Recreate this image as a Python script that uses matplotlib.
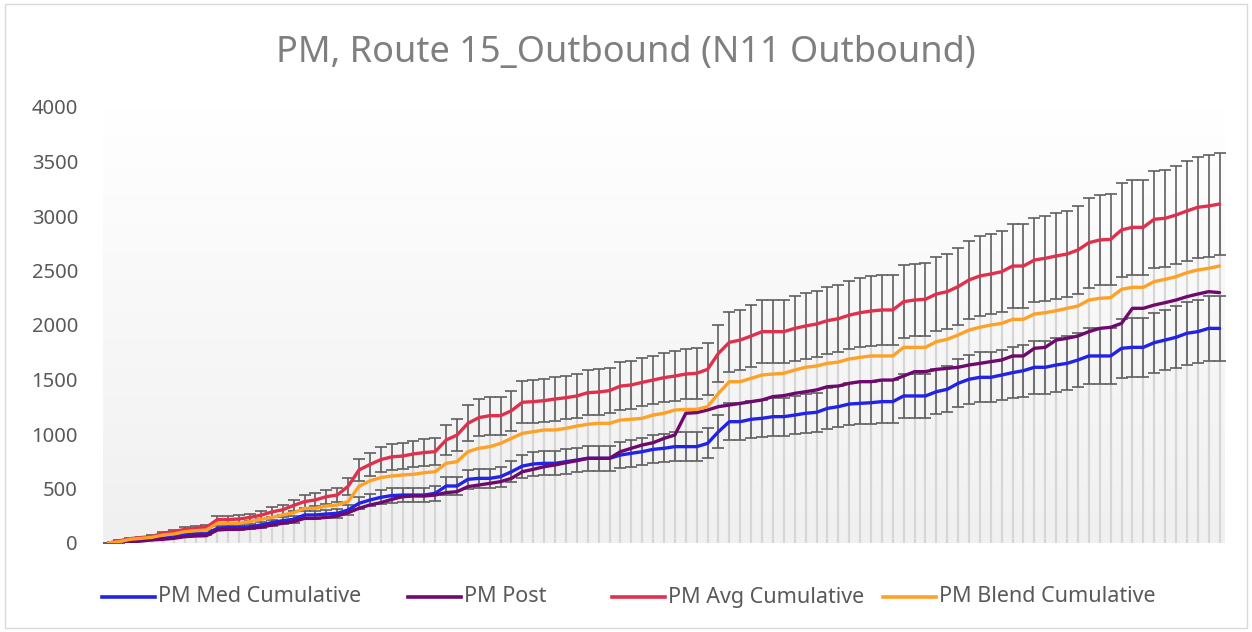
import numpy as np
import matplotlib
matplotlib.use("Agg")
import matplotlib.pyplot as plt
from matplotlib.colors import LinearSegmentedColormap
from matplotlib.patches import Rectangle
from matplotlib.lines import Line2D

# Cumulative PM counts per time step, Route 15 outbound
med_cumulative = [
    0, 3, 18, 28, 34, 43, 58, 73, 83, 83, 135, 144, 144, 150, 165, 187, 205, 217, 257, 257,
    266, 272, 303, 364, 394, 419, 435, 440, 440, 440, 456, 523, 523, 584, 593, 593, 609, 654,
    706, 725, 731, 731, 746, 761, 777, 777, 777, 807, 823, 838, 859, 869, 884, 884, 884, 914,
    1021, 1113, 1113, 1135, 1144, 1159, 1159, 1174, 1190, 1199, 1235, 1251, 1275, 1281, 1287,
    1297, 1297, 1349, 1349, 1349, 1388, 1410, 1465, 1502, 1520, 1520, 1541, 1563, 1581, 1612,
    1612, 1633, 1648, 1679, 1716, 1716, 1716, 1786, 1795, 1795, 1838, 1862, 1887, 1924, 1939,
    1969, 1969,
]
post = [
    0, 2, 9, 18, 28, 34, 43, 58, 64, 67, 119, 125, 125, 135, 144, 165, 181, 196, 226, 226,
    235, 248, 278, 318, 349, 370, 400, 425, 431, 431, 440, 462, 471, 517, 532, 547, 563, 593,
    654, 676, 700, 716, 737, 755, 777, 777, 777, 838, 869, 899, 920, 960, 991, 1190, 1196, 1220,
    1251, 1266, 1281, 1297, 1312, 1343, 1352, 1373, 1388, 1404, 1434, 1440, 1465, 1480, 1480,
    1495, 1495, 1532, 1572, 1572, 1593, 1602, 1612, 1633, 1648, 1664, 1679, 1716, 1716, 1786,
    1795, 1862, 1878, 1899, 1939, 1969, 1979, 2015, 2153, 2153, 2183, 2205, 2229, 2260, 2284,
    2306, 2297,
]
avg_cumulative = [
    0, 20, 40, 50, 60, 90, 105, 125, 135, 145, 215, 215, 220, 235, 255, 285, 305, 345, 380, 395,
    425, 440, 520, 670, 720, 765, 790, 798, 817, 830, 838, 945, 990, 1098, 1150, 1168, 1168, 1214,
    1291, 1297, 1306, 1321, 1333, 1349, 1379, 1385, 1398, 1440, 1450, 1474, 1495, 1517, 1532,
    1550, 1557, 1593, 1740, 1841, 1862, 1899, 1939, 1939, 1939, 1969, 1991, 2009, 2040, 2058,
    2090, 2113, 2128, 2138, 2138, 2214, 2229, 2236, 2284, 2306, 2352, 2413, 2450, 2468, 2489,
    2541, 2541, 2596, 2612, 2633, 2651, 2688, 2755, 2780, 2786, 2872, 2896, 2896, 2970, 2979,
    3009, 3046, 3080, 3092, 3110,
]
blend_cumulative = [
    0, 12, 34, 43, 52, 73, 83, 104, 113, 119, 181, 181, 181, 196, 217, 235, 257, 278, 318, 318,
    339, 349, 380, 520, 570, 600, 615, 624, 630, 645, 654, 731, 746, 838, 869, 884, 914, 960,
    1006, 1021, 1037, 1037, 1052, 1073, 1089, 1098, 1098, 1128, 1135, 1144, 1174, 1190, 1220,
    1226, 1226, 1251, 1373, 1480, 1480, 1511, 1541, 1550, 1557, 1587, 1612, 1624, 1648, 1660,
    1688, 1703, 1716, 1716, 1716, 1795, 1795, 1795, 1847, 1869, 1908, 1954, 1979, 2000, 2015,
    2052, 2052, 2101, 2113, 2131, 2153, 2174, 2229, 2245, 2251, 2327, 2346, 2346, 2398, 2419,
    2443, 2480, 2505, 2520, 2541,
]

series_names = ["PM Med Cumulative", "PM Post", "PM Avg Cumulative", "PM Blend Cumulative"]
series_colors = ["#2222e8", "#6e0a6e", "#e0304e", "#ffa126"]
title_text = "PM, Route 15_Outbound (N11 Outbound)"
y_ticks = [0, 500, 1000, 1500, 2000, 2500, 3000, 3500, 4000]
error_percent = 15  # percentage error bars on the Med and Avg series

W, H = 1252, 632
med = np.array(med_cumulative, dtype=float)
pst = np.array(post, dtype=float)
avg = np.array(avg_cumulative, dtype=float)
bld = np.array(blend_cumulative, dtype=float)
x = np.arange(len(avg))

text_grey = "#595959"

fig = plt.figure(figsize=(W / 100, H / 100), dpi=100)
fig.patch.set_facecolor("white")
fig.patches.append(Rectangle((0.004, 0.006), 0.992, 0.988, transform=fig.transFigure,
                             fill=False, edgecolor="#d9d9d9", linewidth=1.0))

ax = fig.add_axes([103 / W, 89 / H, 1122 / W, 436 / H])
ax.set_facecolor("white")

# soft vertical gradient behind the plot area
grad = np.linspace(0, 1, 256).reshape(-1, 1)
cmap = LinearSegmentedColormap.from_list("bg", ["#f0f0f0", "#ffffff"])
ax.imshow(grad, cmap=cmap, origin="lower", aspect="auto",
          extent=[-0.5, len(x) - 0.5, 0, 4000], zorder=0)

# drop lines from the top series to the axis
ax.vlines(x, 0, avg, colors="#d6d6d6", linewidth=1.6, zorder=1)

err_kw = dict(fmt="none", ecolor="#5f5f5f", elinewidth=1.2, capsize=4.0, capthick=1.2, zorder=2)
ax.errorbar(x, avg, yerr=avg * error_percent / 100, **err_kw)
ax.errorbar(x, med, yerr=med * error_percent / 100, **err_kw)

for vals, name, col in zip([med, pst, avg, bld], series_names, series_colors):
    ax.plot(x, vals, color=col, linewidth=2.4, label=name, zorder=3,
            solid_joinstyle="round", solid_capstyle="round")

ax.set_xlim(-0.5, len(x) - 0.5)
ax.set_ylim(0, 4000)
ax.set_yticks(y_ticks)
ax.set_yticklabels([str(t) for t in y_ticks])
ax.set_xticks([])
for s in ax.spines.values():
    s.set_visible(False)
ax.tick_params(axis="y", length=0, pad=18, labelsize=14.5, labelcolor=text_grey)
for lab in ax.get_yticklabels():
    lab.set_fontfamily("Noto Sans")

fig.text(0.5, 1 - 53 / H, title_text, ha="center", va="center", fontsize=26,
         color="#7f7f7f", family="Noto Sans")

# legend entries laid out in a single row below the plot
legend_handle_x = [102, 408, 612, 883]
legend_y = 1 - 597 / H
for hx, name, col in zip(legend_handle_x, series_names, series_colors):
    fig.add_artist(Line2D([hx / W, (hx + 53) / W], [legend_y, legend_y],
                          transform=fig.transFigure, color=col, linewidth=2.6))
    fig.text((hx + 56) / W, legend_y, name, ha="left", va="center", fontsize=15.5,
             color=text_grey, family="Noto Sans")

fig.savefig("out.png", dpi=100, facecolor="white")
